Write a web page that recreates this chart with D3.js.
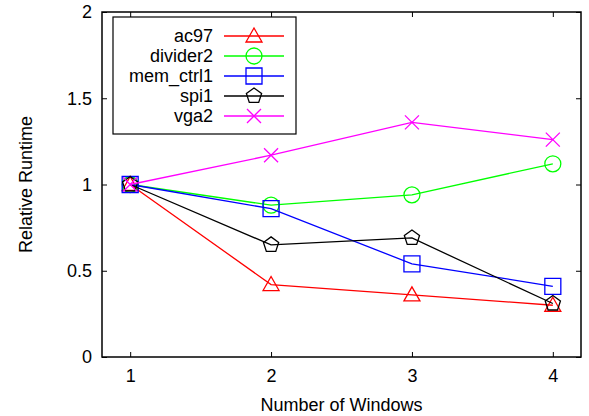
<!DOCTYPE html>
<html><head><meta charset="utf-8">
<script src="https://cdn.jsdelivr.net/npm/d3@7/dist/d3.min.js"></script>
<style>body{margin:0;background:#fff}svg{display:block}text{font-family:"Liberation Sans",Arial,sans-serif;font-size:18px}</style>
</head><body>
<svg id="c" width="589" height="416"></svg>
<script>
const windows = [1, 2, 3, 4];
const ac97 = [1, 0.42, 0.36, 0.30];
const divider2 = [1, 0.88, 0.94, 1.12];
const memCtrl1 = [1, 0.86, 0.54, 0.41];
const spi1 = [1, 0.65, 0.69, 0.31];
const vga2 = [1, 1.17, 1.36, 1.26];
const xTicks = [1, 2, 3, 4];
const yTicks = [0, 0.5, 1, 1.5, 2];
const seriesNames = ["ac97", "divider2", "mem_ctrl1", "spi1", "vga2"];
const seriesColors = ["#ff0000", "#00ff00", "#0000ff", "#000000", "#ff00ff"];
const seriesSymbols = ["triangle", "circle", "square", "pentagon", "cross"];
const seriesValues = [ac97, divider2, memCtrl1, spi1, vga2];

const svg = d3.select("#c");
const L = 102, R = 581, T = 12, B = 357;
const x = d3.scaleLinear().domain([0.8, 4.2]).range([L, R]);
const y = d3.scaleLinear().domain([0, 2]).range([B, T]);
const FONT = '"Liberation Sans",Arial,sans-serif';

const tl = 5;
svg.append("g").attr("transform", `translate(0,${B})`)
  .call(d3.axisBottom(x).tickValues(xTicks).tickSize(-tl).tickPadding(12).tickFormat(d3.format("d")))
  .call(g => g.select(".domain").remove());
svg.append("g").attr("transform", `translate(0,${T})`)
  .call(d3.axisTop(x).tickValues(xTicks).tickSize(-tl).tickFormat(""))
  .call(g => g.select(".domain").remove());
svg.append("g").attr("transform", `translate(${L},0)`)
  .call(d3.axisLeft(y).tickValues(yTicks).tickSize(-tl).tickPadding(10).tickFormat(d => String(d)))
  .call(g => g.select(".domain").remove());
svg.append("g").attr("transform", `translate(${R},0)`)
  .call(d3.axisRight(y).tickValues(yTicks).tickSize(-tl).tickFormat(""))
  .call(g => g.select(".domain").remove());
svg.selectAll(".tick line").attr("stroke", "#000").attr("stroke-width", 1);
svg.selectAll(".tick text").attr("fill", "#000").style("font-size", "18px").style("font-family", FONT);

svg.append("rect").attr("x", L).attr("y", T).attr("width", R - L).attr("height", B - T)
  .attr("fill", "none").attr("stroke", "#000").attr("stroke-width", 1.5);

svg.append("text").attr("transform", `translate(32,${(T + B) / 2}) rotate(-90)`)
  .attr("text-anchor", "middle").text("Relative Runtime");
svg.append("text").attr("x", (L + R) / 2).attr("y", 411).attr("text-anchor", "middle").text("Number of Windows");

function marker(g, sym, cx, cy, color) {
  const sw = 1.3;
  if (sym === "circle") {
    g.append("circle").attr("cx", cx).attr("cy", cy).attr("r", 8).attr("fill", "none").attr("stroke", color).attr("stroke-width", sw);
    return;
  }
  let d;
  if (sym === "triangle") {
    d = `M${cx},${cy - 8}L${cx + 8},${cy + 6}L${cx - 8},${cy + 6}Z`;
  } else if (sym === "square") {
    d = `M${cx - 8},${cy - 8}h16v16h-16Z`;
  } else if (sym === "pentagon") {
    const pts = d3.range(5).map(i => {
      const a = -Math.PI / 2 + i * 2 * Math.PI / 5;
      return [cx + 8 * Math.cos(a), cy + 8 * Math.sin(a)];
    });
    d = "M" + pts.map(p => p.join(",")).join("L") + "Z";
  } else {
    d = `M${cx - 7},${cy - 7}L${cx + 7},${cy + 7}M${cx - 7},${cy + 7}L${cx + 7},${cy - 7}`;
  }
  g.append("path").attr("d", d).attr("fill", "none").attr("stroke", color).attr("stroke-width", sw);
}

const line = d3.line().x((d, i) => x(windows[i])).y(d => y(d));
seriesValues.forEach((vals, k) => {
  const g = svg.append("g");
  g.append("path").datum(vals).attr("d", line).attr("fill", "none").attr("stroke", seriesColors[k]).attr("stroke-width", 1.3);
  vals.forEach((v, i) => marker(g, seriesSymbols[k], x(windows[i]), y(v), seriesColors[k]));
});

const lg = svg.append("g");
lg.append("rect").attr("x", 113).attr("y", 17).attr("width", 183).attr("height", 117)
  .attr("fill", "#fff").attr("stroke", "#000").attr("stroke-width", 1.2);
seriesNames.forEach((n, k) => {
  const yy = 36 + k * 20;
  lg.append("text").attr("x", 213).attr("y", yy).attr("dy", "0.35em").attr("text-anchor", "end").text(n);
  lg.append("line").attr("x1", 224).attr("x2", 284).attr("y1", yy).attr("y2", yy).attr("stroke", seriesColors[k]).attr("stroke-width", 1.3);
  marker(lg, seriesSymbols[k], 254, yy, seriesColors[k]);
});
</script>
</body></html>
